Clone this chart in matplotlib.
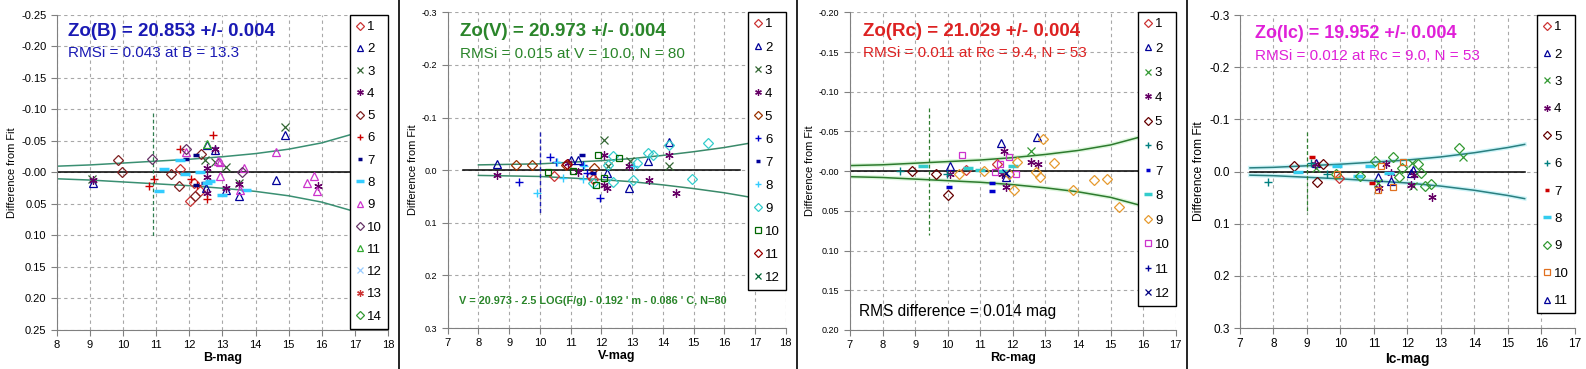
import numpy as np
import matplotlib
matplotlib.use('Agg')
import matplotlib.pyplot as plt
import matplotlib.patheffects as pe
from matplotlib.lines import Line2D

plt.rcParams['font.family'] = ['Liberation Sans', 'DejaVu Sans']

# ---------------- data ----------------
# B panel: 14 series (x = B mag, y = difference from fit)
B_X = [[11.72, 12.15, 12.02, 12.32],
       [9.08, 12.52, 12.77, 13.12, 13.51, 14.63, 14.89, 12.50],
       [14.88, 12.47, 12.77, 13.12, 13.51, 9.06],
       [9.08, 12.77, 12.52, 12.52, 13.12, 13.51, 15.89, 12.52],
       [9.83, 9.98, 11.45, 11.69, 12.34, 12.17],
       [12.72, 11.73, 10.94, 10.78, 12.06, 12.52, 12.22],
       [11.89, 12.19, 12.19, 12.45],
       [11.22, 11.09, 11.72, 11.87, 12.32, 12.62, 12.99, 13.71, 12.52],
       [11.89, 12.87, 12.92, 12.94, 13.66, 14.63, 15.56, 15.76, 15.86, 13.53],
       [10.86, 11.89, 13.60],
       [12.52],
       [], [], []]
B_Y = [[-0.006, 0.016, 0.045, 0.030],
       [0.017, -0.043, -0.035, 0.028, 0.037, 0.012, -0.060, 0.024],
       [-0.072, -0.020, -0.016, -0.009, 0.016, 0.011],
       [0.012, -0.038, -0.007, 0.007, 0.024, 0.018, 0.021, 0.032],
       [-0.020, 0.0, 0.002, 0.022, -0.029, 0.037],
       [-0.060, -0.038, 0.010, 0.022, 0.010, 0.042, 0.020],
       [-0.022, -0.027, 0.020, 0.017],
       [-0.006, 0.030, -0.020, 0.003, 0.0, 0.013, 0.035, 0.028, 0.016],
       [-0.032, -0.019, -0.016, 0.005, -0.007, -0.033, 0.017, 0.005, 0.029, 0.028],
       [-0.021, -0.037, 0.0],
       [-0.045],
       [], [], []]

# V panel: 12 series
V_X = [[10.46, 11.66, 11.74],
       [8.59, 11.0, 11.25, 12.17, 12.89, 13.52, 14.21],
       [12.09, 12.93, 14.21, 12.23],
       [8.59, 12.09, 12.91, 14.21, 13.54, 14.43, 12.17, 12.09, 11.25, 10.93],
       [9.22, 9.73, 10.84, 11.76],
       [10.33, 9.32, 11.94, 11.39, 11.52, 10.52],
       [11.36, 11.74],
       [9.90, 10.57, 11.44, 11.39, 13.07, 10.76],
       [12.39, 12.39, 13.04, 13.15, 13.53, 13.67, 14.21, 14.94, 15.48, 12.23, 11.74],
       [10.25, 11.07, 11.88, 11.83, 12.07, 12.59],
       [10.87],
       []]
V_Y = [[0.011, 0.012, 0.016],
       [-0.011, -0.020, -0.020, 0.006, 0.034, -0.018, -0.053],
       [-0.058, -0.018, -0.008, -0.008],
       [0.009, -0.028, -0.007, -0.028, 0.018, 0.044, 0.034, 0.028, 0.003, -0.013],
       [-0.009, -0.009, -0.009, -0.004],
       [-0.025, 0.023, 0.053, -0.009, 0.006, -0.016],
       [-0.028, 0.006],
       [0.044, -0.016, -0.007, 0.016, -0.007, 0.014],
       [-0.026, 0.023, 0.018, -0.013, -0.032, -0.028, -0.047, 0.017, -0.051, -0.010, 0.025],
       [0.003, 0.001, -0.029, 0.029, 0.014, -0.023],
       [-0.011],
       []]

# Rc panel: 12 series
R_X = [[10.55, 11.52],
       [10.07, 11.64, 12.75, 11.79],
       [12.56],
       [10.07, 11.72, 12.56, 12.78, 11.79, 11.67],
       [8.91, 9.63, 10.01],
       [8.54, 9.97],
       [10.03, 11.35, 11.35],
       [9.25, 10.63, 10.99, 12.02, 11.71],
       [12.94, 10.36, 11.11, 12.12, 12.05, 12.71, 12.84, 13.27, 13.86, 14.49, 14.90, 15.27, 11.89],
       [10.43, 11.45, 11.60, 11.88, 12.09],
       [],
       [11.80]]
R_Y = [[-0.002, -0.009],
       [-0.007, -0.036, -0.043, 0.008],
       [-0.025],
       [0.003, -0.025, -0.011, -0.009, 0.020, 0.003],
       [0.0, 0.003, 0.030],
       [0.0, 0.003],
       [0.020, 0.015, 0.025],
       [-0.007, -0.004, -0.001, -0.007, 0.0],
       [-0.041, 0.004, 0.0, -0.012, 0.024, 0.001, 0.008, -0.010, 0.024, 0.011, 0.010, 0.045, 0.004],
       [-0.020, 0.001, -0.009, -0.018, 0.004],
       [],
       [0.002]]

# Ic panel: 11 series
I_X = [[9.96],
       [9.27, 11.13, 11.50, 12.18, 12.10],
       [9.27, 13.67, 12.18, 12.13, 11.13],
       [9.25, 11.35, 12.10, 12.72, 11.50, 11.15, 12.20],
       [8.62, 9.49, 9.30],
       [7.84, 9.61, 9.12],
       [9.15, 10.94],
       [8.72, 9.91, 10.89, 11.46, 10.51],
       [10.59, 11.04, 11.57, 11.75, 11.83, 12.32, 12.42, 12.53, 12.70, 13.54, 9.88],
       [9.89, 11.20, 11.12, 11.58, 11.88],
       []]
I_Y = [[0.013],
       [-0.017, 0.011, 0.019, -0.002, 0.003],
       [-0.006, -0.027, 0.027, -0.016, 0.022],
       [-0.015, -0.014, 0.026, 0.048, 0.002, 0.032, 0.006],
       [-0.010, -0.015, 0.021],
       [0.021, 0.004, -0.016],
       [-0.027, 0.022],
       [0.0, -0.010, -0.011, 0.003, 0.008],
       [0.008, -0.020, -0.027, 0.011, -0.006, -0.014, 0.003, 0.027, 0.024, -0.045, 0.004],
       [0.004, -0.010, 0.035, 0.029, -0.018],
       []]

# error envelope (upper branch), lower branch is the mirror
B_ENV_X = [8, 9, 10, 11, 12, 13, 14, 15, 16, 17]
B_ENV_Y = [-0.010, -0.012, -0.015, -0.018, -0.021, -0.025, -0.030, -0.037, -0.047, -0.062]
V_ENV_X = [8, 9, 10, 11, 12, 13, 14, 15, 16, 17]
V_ENV_Y = [-0.010, -0.011, -0.012, -0.015, -0.018, -0.022, -0.028, -0.035, -0.043, -0.053]
R_ENV_X = [7, 8, 9, 10, 11, 12, 13, 14, 15, 16]
R_ENV_Y = [-0.007, -0.008, -0.010, -0.012, -0.014, -0.017, -0.021, -0.026, -0.033, -0.044]
I_ENV_X = [7.3, 8, 9, 10, 11, 12, 13, 14, 15, 15.5]
I_ENV_Y = [-0.007, -0.008, -0.011, -0.014, -0.018, -0.022, -0.028, -0.036, -0.046, -0.052]

# series styles: (marker, colour)
B_STY = [('D', '#cc3333'), ('^', '#000099'), ('x', '#336633'), ('ast', '#660066'),
         ('D', '#7f2020'), ('+', '#cc0000'), ('dash', '#000080'), ('wdash', '#33ccff'),
         ('^', '#cc33cc'), ('D', '#663366'), ('^', '#33aa33'), ('x', '#99ccff'),
         ('ast', '#cc3333'), ('D', '#339933')]
V_STY = [('D', '#cc3333'), ('^', '#000099'), ('x', '#336633'), ('ast', '#660066'),
         ('D', '#993300'), ('+', '#0000cc'), ('dash', '#000099'), ('+', '#33ccff'),
         ('D', '#33cccc'), ('s', '#006600'), ('D', '#990000'), ('x', '#006633')]
R_STY = [('D', '#cc3333'), ('^', '#000099'), ('x', '#339933'), ('ast', '#660066'),
         ('D', '#660000'), ('+', '#008080'), ('dash', '#0000cc'), ('wdash', '#33cccc'),
         ('D', '#e69a2e'), ('s', '#cc33cc'), ('+', '#000099'), ('x', '#000080')]
I_STY = [('D', '#cc3333'), ('^', '#000099'), ('x', '#339933'), ('ast', '#660066'),
         ('D', '#660000'), ('+', '#008080'), ('dash', '#cc0000'), ('wdash', '#33ccee'),
         ('D', '#339933'), ('s', '#e07020'), ('^', '#000099')]


def draw_series(ax, xs, ys, styles):
    for i, (x, y, (m, c)) in enumerate(zip(xs, ys, styles)):
        kw = dict(ls='none', label=str(i + 1))
        if m in ('D', '^', 's'):
            ms = {'D': 4.6, '^': 5.5, 's': 5.0}[m]
            kw.update(marker=m, ms=ms, mfc='none', mec=c, mew=0.9)
        elif m == 'x':
            kw.update(marker='x', ms=5.5, mec=c, mew=0.9)
        elif m == '+':
            kw.update(marker='+', ms=6, mec=c, mew=1.0)
        elif m == 'ast':
            kw.update(marker=(6, 2, 0), ms=6, mec=c, mew=0.9)
        elif m == 'dash':
            kw.update(marker='_', ms=4, mec=c, mew=2.5)
        elif m == 'wdash':
            kw.update(marker='_', ms=7, mec=c, mew=2.5)
        ax.plot(x, y, **kw)


def setup(ax, xlim, ylim, xstep, ystep, yfmt, xlabel, tfs_x, tfs_y, ylfs=7.9):
    ax.set_xlim(*xlim)
    ax.set_ylim(ylim[1], ylim[0])
    ax.set_xticks(np.arange(xlim[0], xlim[1] + 0.01, xstep))
    yt = np.arange(ylim[0], ylim[1] + 1e-9, ystep)
    ax.set_yticks(yt)
    ax.set_yticklabels([yfmt.format(v + 0.0) for v in yt])
    ax.grid(True, color='#a8a8a8', ls=(0, (3, 3)), lw=0.8)
    ax.set_axisbelow(True)
    for s in ('top', 'right'):
        ax.spines[s].set_visible(False)
    for s in ('left', 'bottom'):
        ax.spines[s].set_color('#808080')
    ax.tick_params(axis='both', direction='out', length=4, color='#808080', width=0.8)
    ax.tick_params(axis='x', labelsize=tfs_x)
    ax.tick_params(axis='y', labelsize=tfs_y)
    ax.set_xlabel(xlabel, fontsize=9, fontweight='bold', labelpad=1)
    ax.set_ylabel('Difference from Fit', fontsize=ylfs, labelpad=3)


def envelope(ax, ex, ey, color, glow=None):
    ey = np.array(ey)
    eff = [pe.Stroke(linewidth=3.0, foreground=glow), pe.Normal()] if glow else None
    ax.plot(ex, ey, color=color, lw=1.1, path_effects=eff)
    ax.plot(ex, -ey, color=color, lw=1.1, path_effects=eff)


def legend(ax, spacing):
    lg = ax.legend(loc='upper right', bbox_to_anchor=(1.0, 1.0), borderaxespad=0,
                   fontsize=9.5, frameon=True, fancybox=False, edgecolor='black',
                   framealpha=1, labelspacing=spacing, handlelength=0.6,
                   handletextpad=0.25, borderpad=0.45, markerscale=0.8, numpoints=1)
    lg.get_frame().set_linewidth(1.0)
    return lg


fig = plt.figure(figsize=(15.86, 3.69), dpi=100)

# ---- panel B ----
ax1 = fig.add_axes([0.0359, 0.1057, 0.2087, 0.8537])
setup(ax1, (8, 18), (-0.25, 0.25), 1, 0.05, '{:.2f}', 'B-mag', 8, 8)
ax1.plot([8, 17], [0, 0], color='black', lw=1.1)
envelope(ax1, B_ENV_X, B_ENV_Y, '#3a8f72')
ax1.plot([10.9, 10.9], [-0.095, 0.101], color='#2e7d4f', lw=0.9, ls=(0, (3, 2)))
draw_series(ax1, B_X, B_Y, B_STY)
legend(ax1, 0.76)
ax1.text(0.033, 0.946, 'Zo(B) = 20.853 +/- 0.004', transform=ax1.transAxes,
         color='#1a1ab4', fontsize=13.5, fontweight='bold', va='center')
ax1.text(0.033, 0.879, 'RMSi = 0.043 at B = 13.3', transform=ax1.transAxes,
         color='#1a1ab4', fontsize=11, va='center')

# ---- panel V ----
ax2 = fig.add_axes([0.2823, 0.1111, 0.2131, 0.8556])
setup(ax2, (7, 18), (-0.3, 0.3), 1, 0.1, '{:.1f}', 'V-mag', 8, 6.5)
ax2.plot([7.5, 16.5], [0, 0], color='black', lw=1.1)
envelope(ax2, V_ENV_X, V_ENV_Y, '#3a8a6a')
ax2.plot([10.0, 10.0], [-0.073, 0.082], color='#2020b0', lw=1.0, ls=(0, (3, 2)))
draw_series(ax2, V_X, V_Y, V_STY)
legend(ax2, 0.82)
ax2.text(0.036, 0.938, 'Zo(V) = 20.973 +/- 0.004', transform=ax2.transAxes,
         color='#2a852a', fontsize=13.5, fontweight='bold', va='center')
ax2.text(0.036, 0.868, 'RMSi = 0.015 at V = 10.0, N = 80', transform=ax2.transAxes,
         color='#2a852a', fontsize=11, va='center')
ax2.text(0.034, 0.086, "V = 20.973 - 2.5 LOG(F/g) - 0.192 ' m - 0.086 ' C, N=80",
         transform=ax2.transAxes, color='#2a852a', fontsize=7.8, fontweight='bold',
         va='center')

# ---- panel Rc ----
ax3 = fig.add_axes([0.5359, 0.1057, 0.2054, 0.861])
setup(ax3, (7, 17), (-0.20, 0.20), 1, 0.05, '{:.2f}', 'Rc-mag', 8, 6.5)
ax3.plot([7, 16.5], [0, 0], color='black', lw=1.1)
envelope(ax3, R_ENV_X, R_ENV_Y, '#2d7a2d', glow='#dcf6dc')
ax3.plot([9.44, 9.44], [-0.080, 0.080], color='#2e7d2e', lw=0.9, ls=(0, (3, 2)))
draw_series(ax3, R_X, R_Y, R_STY)
legend(ax3, 0.93)
ax3.text(0.040, 0.941, 'Zo(Rc) = 21.029 +/- 0.004', transform=ax3.transAxes,
         color='#dd2222', fontsize=13.5, fontweight='bold', va='center')
ax3.text(0.040, 0.872, 'RMSi = 0.011 at Rc = 9.4, N = 53', transform=ax3.transAxes,
         color='#dd2222', fontsize=11, va='center')
ax3.text(0.028, 0.057, 'RMS difference = 0.014 mag', transform=ax3.transAxes,
         color='black', fontsize=11.2, va='center')

# ---- panel Ic ----
ax4 = fig.add_axes([0.7818, 0.1111, 0.2112, 0.8482])
setup(ax4, (7, 17), (-0.3, 0.3), 1, 0.1, '{:.1f}', 'Ic-mag', 8.5, 8.5, ylfs=8.7)
ax4.xaxis.label.set_fontsize(10)
ax4.plot([7.3, 15.5], [0, 0], color='black', lw=1.1)
envelope(ax4, I_ENV_X, I_ENV_Y, '#2a7f80', glow='#cdf4f8')
ax4.plot([9.0, 9.0], [-0.075, 0.082], color='#2e7d2e', lw=0.9, ls=(0, (3, 2)))
draw_series(ax4, I_X, I_Y, I_STY)
legend(ax4, 1.15)
ax4.text(0.045, 0.942, 'Zo(Ic) = 19.952 +/- 0.004', transform=ax4.transAxes,
         color='#e020d8', fontsize=13, fontweight='bold', va='center')
ax4.text(0.045, 0.869, 'RMSi = 0.012 at Rc = 9.0, N = 53', transform=ax4.transAxes,
         color='#e020d8', fontsize=11, va='center')

# panel separators
for xs in (399, 797, 1187):
    fig.add_artist(Line2D([xs / 1586, xs / 1586], [0, 1], color='black', lw=1.2,
                          transform=fig.transFigure))

fig.savefig('out.png', dpi=100)
